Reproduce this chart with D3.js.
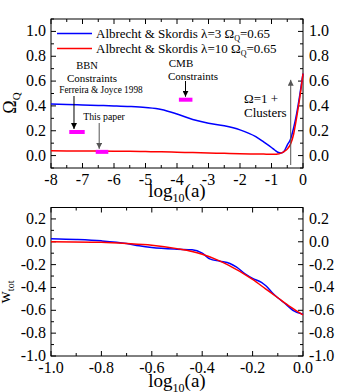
<!DOCTYPE html>
<html><head><meta charset="utf-8">
<script src="https://cdn.jsdelivr.net/npm/d3@7"></script>
<style>body{margin:0;background:#fff}svg{display:block}</style>
</head><body><svg id="c" width="338" height="392"></svg>
<script>
// ---- data ----
const topX   = [-8,-7.5,-7,-6.5,-6,-5.5,-5,-4.5,-4,-3.5,-3,-2.5,-2,-1.5,-1.25,-1,-0.9,-0.8,-0.7,-0.6,-0.5,-0.4,-0.3,-0.2,-0.1,0];
const blueOm = [0.415,0.412,0.408,0.404,0.40,0.395,0.387,0.372,0.335,0.29,0.26,0.24,0.207,0.152,0.11,0.065,0.045,0.027,0.02,0.035,0.085,0.13,0.22,0.34,0.49,0.66];
const redOm  = [0.038,0.037,0.037,0.036,0.035,0.034,0.032,0.030,0.027,0.024,0.021,0.018,0.015,0.013,0.012,0.011,0.010,0.012,0.02,0.032,0.052,0.09,0.17,0.31,0.47,0.66];
const botBlueX = [-1,-0.9,-0.8,-0.7,-0.65,-0.6,-0.5,-0.44,-0.4,-0.37,-0.33,-0.29,-0.265,-0.23,-0.2,-0.165,-0.145,-0.12,-0.1,-0.066,-0.04,0];
const blueW    = [0.027,0.02,0.008,-0.015,-0.035,-0.05,-0.065,-0.07,-0.1,-0.15,-0.17,-0.19,-0.22,-0.28,-0.32,-0.355,-0.39,-0.45,-0.49,-0.55,-0.6,-0.635];
const botRedX  = [-1,-0.8,-0.7,-0.6,-0.5,-0.44,-0.4,-0.35,-0.3,-0.2,-0.15,-0.1,-0.05,0];
const redW     = [0.0,-0.005,-0.015,-0.03,-0.06,-0.085,-0.11,-0.15,-0.2,-0.33,-0.41,-0.49,-0.57,-0.64];
// constraint bars: [x0, x1, y]
const constraintBars = [[-7.42,-6.93,0.19],[-6.58,-6.18,0.03],[-3.94,-3.51,0.45]];
const topXTicks = [-8,-7,-6,-5,-4,-3,-2,-1,0];
const topYTicks = [0.0,0.2,0.4,0.6,0.8,1.0];
const botXTicks = [-1.0,-0.8,-0.6,-0.4,-0.2,0.0];
const botYTicks = [-1.0,-0.8,-0.6,-0.4,-0.2,0.0,0.2];
const legendLabels = ["Albrecht & Skordis \u03bb=3 ", "Albrecht & Skordis \u03bb=10 "];

const FONT="Liberation Serif";
const svg = d3.select("#c");
const L=51, R=303;

function T(sel){return sel.append("text").attr("font-family",FONT).attr("fill","#000");}

function panel(xs, ys, xTicks, yTicks, xMinor, yMinor, xfmt, yfmt){
  const g = svg.append("g");
  const [y0,y1]=ys.range();
  const tickG=g.append("g").attr("stroke","#000").attr("stroke-width",1);
  xMinor.forEach(v=>{const x=xs(v);const len=xTicks.some(t=>Math.abs(t-v)<1e-9)?5:3;
    tickG.append("line").attr("x1",x).attr("x2",x).attr("y1",y0).attr("y2",y0-len);
    tickG.append("line").attr("x1",x).attr("x2",x).attr("y1",y1).attr("y2",y1+len);});
  yMinor.forEach(v=>{const y=ys(v);const len=yTicks.some(t=>Math.abs(t-v)<1e-9)?5:3;
    tickG.append("line").attr("x1",L).attr("x2",L+len).attr("y1",y).attr("y2",y);
    tickG.append("line").attr("x1",R).attr("x2",R-len).attr("y1",y).attr("y2",y);});
  g.append("rect").attr("x",L).attr("y",y1).attr("width",R-L).attr("height",y0-y1)
   .attr("fill","none").attr("stroke","#000").attr("stroke-width",1);
  xTicks.forEach(v=>T(g).attr("x",xs(v)).attr("y",y0+17).attr("text-anchor","middle")
    .attr("font-size",16).text(xfmt(v)));
  yTicks.forEach(v=>{
    T(g).attr("x",L-5).attr("y",ys(v)+5).attr("text-anchor","end").attr("font-size",16).text(yfmt(v));
    T(g).attr("x",R+6).attr("y",ys(v)+5).attr("text-anchor","start").attr("font-size",16).text(yfmt(v));
  });
  return g;
}
const fmtNeg = v => (v<0?"-":"")+Math.abs(v);
const fmt1 = v => (v<0?"-":"")+Math.abs(v).toFixed(1);

// ---- top panel ----
const xT = d3.scaleLinear().domain([-8,0]).range([L,R]);
const yT = d3.scaleLinear().domain([-0.1,1.1]).range([168,19]);
panel(xT,yT,topXTicks,topYTicks,d3.range(-8,0.01,0.5),d3.range(-0.1,1.101,0.1).map(v=>+v.toFixed(2)),fmtNeg,v=>v.toFixed(1));

const lineT = d3.line().curve(d3.curveMonotoneX);
svg.append("path").attr("d",lineT(topX.map((x,i)=>[xT(x),yT(blueOm[i])]))).attr("fill","none").attr("stroke","#0000ff").attr("stroke-width",1.5);
svg.append("path").attr("d",lineT(topX.map((x,i)=>[xT(x),yT(redOm[i])]))).attr("fill","none").attr("stroke","#ff0000").attr("stroke-width",1.5);

constraintBars.forEach(b=>svg.append("rect").attr("x",xT(b[0])).attr("y",yT(b[2])-2).attr("width",xT(b[1])-xT(b[0])).attr("height",4).attr("fill","#ff00ff"));

// arrows
const defs=svg.append("defs");
function marker(id,col){defs.append("marker").attr("id",id).attr("viewBox","0 0 10 10").attr("refX",10).attr("refY",5)
  .attr("markerWidth",6).attr("markerHeight",6).attr("markerUnits","userSpaceOnUse").attr("orient","auto")
  .append("path").attr("d","M0,0L10,5L0,10z").attr("fill",col);}
marker("ab","#000");marker("ag","#555");
function arrow(x,yFrom,yTo,col,id){svg.append("line").attr("x1",xT(x)).attr("x2",xT(x)).attr("y1",yFrom).attr("y2",yTo)
  .attr("stroke",col).attr("stroke-width",1).attr("marker-end",`url(#${id})`);}
arrow(-7.27,96,yT(0.19)-3,"#000","ab");
arrow(-6.47,123,yT(0.03)-3,"#555","ag");
arrow(-3.73,81,yT(0.45)-3,"#000","ab");
arrow(-0.39,165,yT(0.61),"#555","ag");

function txt(x,y,s,fs,anchor){return T(svg).attr("x",x).attr("y",y).attr("font-size",fs).attr("text-anchor",anchor||"start").text(s);}
txt(87,69,"BBN",10.5,"middle");
txt(92,82,"Constraints",11,"middle");
txt(101,93,"Ferreira & Joyce 1998",9.3,"middle");
txt(104,120,"This paper",9.8,"middle");
txt(181,67,"CMB",11,"middle");
txt(193,80,"Constraints",11,"middle");
txt(244,103,"\u03a9=1 +",13);
txt(244,117,"Clusters",13);

// legend
[["#0000ff",33.5],["#ff0000",48.5]].forEach((d,i)=>{
  svg.append("line").attr("x1",57).attr("x2",92).attr("y1",d[1]).attr("y2",d[1]).attr("stroke",d[0]).attr("stroke-width",1.5);
  const t=T(svg).attr("x",96).attr("y",d[1]+4).attr("font-size",13);
  t.append("tspan").text(legendLabels[i]+"\u03a9");
  t.append("tspan").attr("font-size",8).attr("dy",3).text("Q");
  t.append("tspan").attr("dy",-3).text("=0.65");
});

// axis labels top
const xl1=T(svg).attr("x",177).attr("y",197).attr("text-anchor","middle").attr("font-size",19);
xl1.append("tspan").text("log");xl1.append("tspan").attr("font-size",12).attr("dy",5).text("10");xl1.append("tspan").attr("dy",-5).text("(a)");
const yl1=T(svg).attr("transform","translate(16,103) rotate(-90)").attr("text-anchor","middle").attr("font-size",18);
yl1.append("tspan").text("\u03a9");yl1.append("tspan").attr("font-size",11).attr("dy",4).text("Q");

// ---- bottom panel ----
const xB = d3.scaleLinear().domain([-1,0]).range([L,R]);
const yB = d3.scaleLinear().domain([-1,0.3]).range([356,207.5]);
panel(xB,yB,botXTicks,botYTicks,d3.range(-1,0.001,0.1).map(v=>+v.toFixed(2)),d3.range(-1,0.301,0.1).map(v=>+v.toFixed(2)),fmt1,fmt1);
svg.append("path").attr("d",lineT(botBlueX.map((x,i)=>[xB(x),yB(blueW[i])]))).attr("fill","none").attr("stroke","#0000ff").attr("stroke-width",1.5);
svg.append("path").attr("d",lineT(botRedX.map((x,i)=>[xB(x),yB(redW[i])]))).attr("fill","none").attr("stroke","#ff0000").attr("stroke-width",1.5);

const xl2=T(svg).attr("x",177).attr("y",387).attr("text-anchor","middle").attr("font-size",19);
xl2.append("tspan").text("log");xl2.append("tspan").attr("font-size",12).attr("dy",5).text("10");xl2.append("tspan").attr("dy",-5).text("(a)");
const yl2=T(svg).attr("transform","translate(10,292) rotate(-90)").attr("text-anchor","middle").attr("font-size",17);
yl2.append("tspan").text("w");yl2.append("tspan").attr("font-size",10).attr("dy",4).text("tot");
</script></body></html>
